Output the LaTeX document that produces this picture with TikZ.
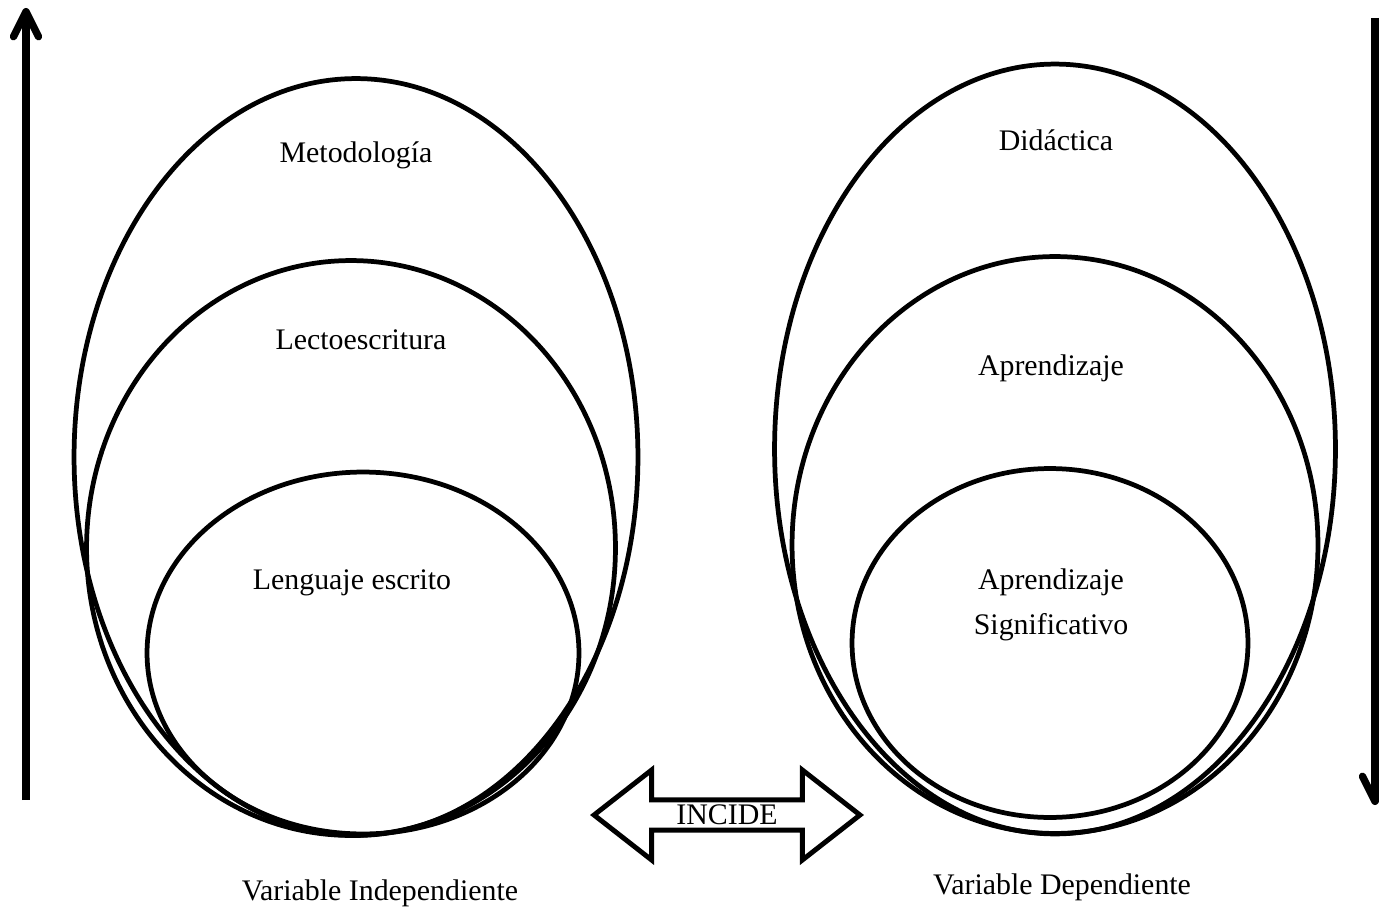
\documentclass[tikz,border=0pt]{standalone}
\usepackage{fontspec}
\setmainfont{Liberation Serif}
\usetikzlibrary{shapes.geometric,shapes.arrows,arrows.meta}
\begin{document}
\begin{tikzpicture}
        [x=0.02cm, y=-0.02cm,
        oval/.style={ellipse, draw=black, line width=2.7pt, inner sep=0pt},
        lbl/.style={font=\fontsize{17}{26}\selectfont, align=center, inner sep=0pt},
        axis/.style={line width=4.2pt, -{Straight Barb[round, length=0.5cm, width=0.5cm]}},
        ]
        \useasboundingbox (0,0) rectangle (1379,909);
        % variable independiente
        \node[oval, minimum width=11.28cm, minimum height=15.14cm] (metodo) at (356,457) {};
        \node[oval, minimum width=10.58cm, minimum height=11.5cm] (lecto) at (351,548) {};
        \node[oval, minimum width=8.64cm, minimum height=7.24cm] (lengua) at (363,653) {};
        \node[lbl] (tmetodo) at (356,155) {Metodología};
        \node[lbl] (tlecto) at (361,340) {Lectoescritura};
        \node[lbl] (tlengua) at (352,583) {Lenguaje escrito};
        \node[lbl] (vind) at (380,893) {Variable Independiente};
        % variable dependiente
        \node[oval, minimum width=11.22cm, minimum height=15.4cm] (didac) at (1055,449) {};
        \node[oval, minimum width=10.52cm, minimum height=11.54cm] (aprend) at (1055,545) {};
        \node[oval, minimum width=7.92cm, minimum height=6.98cm] (signif) at (1050,643) {};
        \node[lbl] (tdidac) at (1056,140) {Didáctica};
        \node[lbl] (taprend) at (1051,368) {Aprendizaje};
        \node[lbl] (tsignif) at (1051,605) {Aprendizaje\\Significativo};
        \node[lbl] (vdep) at (1062,887) {Variable Dependiente};
        % relacion
        \node[double arrow, draw, line width=2.8pt, inner sep=0pt,
          double arrow head extend=0.49cm, double arrow tip angle=76,
          minimum height=5.32cm, minimum width=1.8cm,
          font=\fontsize{17}{20}\selectfont] (incide) at (727,815) {INCIDE};
        % flechas laterales
        \coordinate (izqa) at (26,800);
        \coordinate (izqb) at (26,8);
        \coordinate (dera) at (1375,18);
        \coordinate (derb) at (1375,805);
        \draw[axis] (izqa) -- (izqb);
        \draw[axis] (dera) -- (derb);
\end{tikzpicture}
\end{document}
